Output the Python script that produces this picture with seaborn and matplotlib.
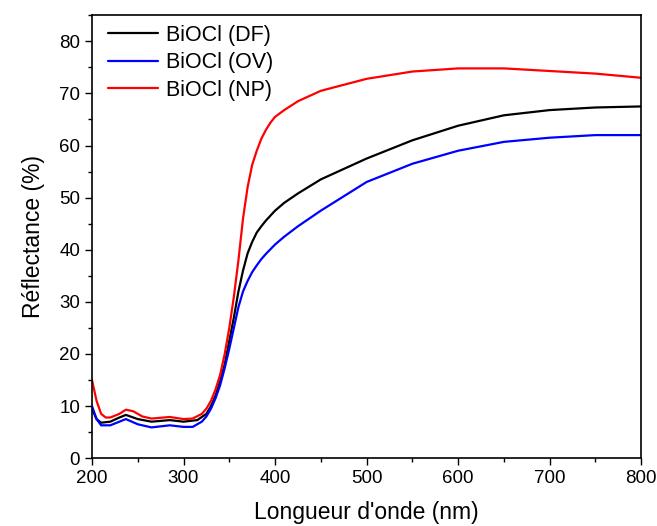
import numpy as np
import pandas as pd
import matplotlib
matplotlib.use("Agg")
import matplotlib.pyplot as plt
from matplotlib.ticker import MultipleLocator
import seaborn as sns

# -------------------------
# Data
# -------------------------
wl_df = [200, 205, 210, 220, 230, 237, 250, 265, 285, 300, 315, 325, 330, 335, 340, 345,
         350, 355, 360, 365, 370, 375, 380, 385, 390, 400, 410, 425, 450, 500, 550,
         600, 650, 700, 750, 800]
r_df = [9.5, 7.5, 6.8, 7.0, 7.8, 8.3, 7.5, 7.0, 7.3, 7.0, 7.3, 8.5, 10, 12, 14.8, 18,
        22.5, 27, 32, 36, 39.3, 41.5, 43.3, 44.5, 45.6, 47.5, 49.0, 50.8, 53.5, 57.5, 61,
        63.8, 65.8, 66.8, 67.3, 67.5]

wl_ov = [200, 205, 210, 220, 230, 237, 250, 265, 285, 300, 310, 320, 325, 330, 335, 340,
         345, 350, 355, 360, 365, 370, 375, 380, 385, 390, 400, 410, 425, 450, 500, 550,
         600, 650, 700, 750, 800]
r_ov = [10, 7.5, 6.3, 6.3, 7.0, 7.5, 6.5, 5.9, 6.3, 6.0, 6.0, 7.0, 8.0, 9.5, 11.5, 14,
        17.3, 21, 25, 29, 32, 34, 35.7, 37, 38.2, 39.2, 41, 42.5, 44.5, 47.5, 53, 56.5,
        59, 60.7, 61.5, 62.0, 62.0]

wl_np = [200, 205, 210, 215, 220, 230, 237, 245, 255, 265, 285, 300, 310, 320, 325, 330,
         335, 340, 345, 350, 355, 360, 365, 370, 375, 380, 385, 390, 395, 400, 410, 425,
         450, 500, 550, 600, 650, 700, 750, 800]
r_np = [15, 11, 8.5, 7.8, 7.8, 8.5, 9.3, 9.0, 8.0, 7.6, 7.9, 7.5, 7.6, 8.5, 9.5, 11,
        13.2, 16, 20, 25, 31, 38, 46, 52, 56.3, 59, 61.3, 63, 64.4, 65.5, 66.8, 68.5,
        70.5, 72.8, 74.2, 74.8, 74.8, 74.3, 73.8, 73.0]

labels = ["BiOCl (DF)", "BiOCl (OV)", "BiOCl (NP)"]
colors = ["black", "blue", "red"]

df = pd.concat([
    pd.DataFrame({"wl": wl_df, "R": r_df, "sample": labels[0]}),
    pd.DataFrame({"wl": wl_ov, "R": r_ov, "sample": labels[1]}),
    pd.DataFrame({"wl": wl_np, "R": r_np, "sample": labels[2]}),
])

# -------------------------
# Plot
# -------------------------
sns.set_style("ticks")
plt.rcParams["font.family"] = ["Liberation Sans", "DejaVu Sans"]
plt.rcParams.update({"text.color": "black", "axes.labelcolor": "black",
                     "xtick.color": "black", "ytick.color": "black",
                     "axes.edgecolor": "black"})

fig = plt.figure(figsize=(6.57, 5.26), dpi=100)
ax = fig.add_axes([0.14, 0.129, 0.836, 0.842])

sns.lineplot(data=df, x="wl", y="R", hue="sample", hue_order=labels,
             palette=dict(zip(labels, colors)), linewidth=1.6, ax=ax, sort=False)

ax.set_xlim(200, 800)
ax.set_ylim(0, 85)
ax.xaxis.set_major_locator(MultipleLocator(100))
ax.xaxis.set_minor_locator(MultipleLocator(50))
ax.yaxis.set_major_locator(MultipleLocator(10))
ax.yaxis.set_minor_locator(MultipleLocator(5))
ax.tick_params(which="both", direction="out", labelsize=13.5, width=1)
ax.tick_params(which="major", length=5)
ax.tick_params(which="minor", length=3)
for s in ax.spines.values():
    s.set_visible(True)
    s.set_linewidth(1.2)

ax.set_xlabel("Longueur d'onde (nm)", fontsize=16.5, labelpad=10)
ax.set_ylabel("Réflectance (%)", fontsize=16.5, labelpad=10)

leg = ax.legend(loc="upper left", bbox_to_anchor=(0.0, 1.015), frameon=False,
                fontsize=15.5, handlelength=2.3, handletextpad=0.4,
                labelspacing=0.3, borderaxespad=0.35)
for line in leg.get_lines():
    line.set_linewidth(1.6)

fig.savefig("out.png", dpi=100)
